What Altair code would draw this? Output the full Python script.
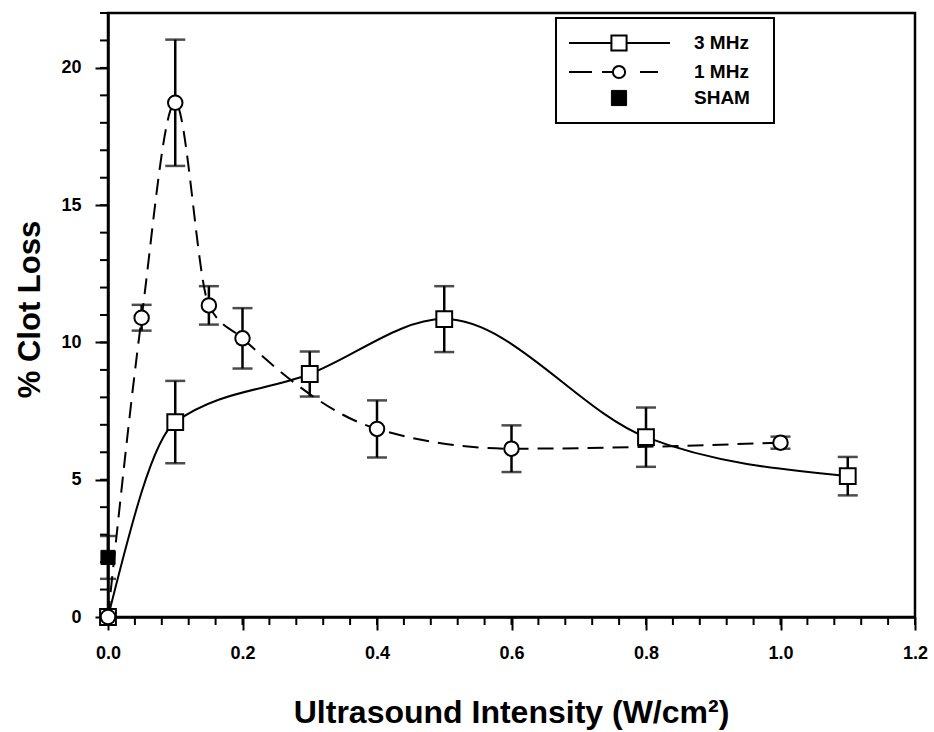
import altair as alt
import pandas as pd

# ---- data ----
x_3mhz = [0.0, 0.1, 0.3, 0.5, 0.8, 1.1]
y_3mhz = [0.0, 7.1, 8.85, 10.85, 6.55, 5.13]
e_3mhz = [0.0, 1.5, 0.82, 1.2, 1.08, 0.7]

x_1mhz = [0.0, 0.05, 0.1, 0.15, 0.2, 0.4, 0.6, 1.0]
y_1mhz = [0.0, 10.9, 18.73, 11.35, 10.15, 6.85, 6.13, 6.35]
e_1mhz = [0.0, 0.47, 2.3, 0.7, 1.1, 1.04, 0.85, 0.22]

x_sham = [0.0]
y_sham = [2.17]
e_sham = [0.78]

x_major = [0.0, 0.2, 0.4, 0.6, 0.8, 1.0, 1.2]
x_minor = [round(i * 0.04, 2) for i in range(31)]
y_major = [0, 5, 10, 15, 20]
y_minor = list(range(0, 23))

legend_labels = ["3 MHz", "1 MHz", "SHAM"]

FONT = "Liberation Sans"

def mk(x, y, e):
    df = pd.DataFrame({"x": x, "y": y, "e": e})
    df["lo"] = df["y"] - df["e"]
    df["hi"] = df["y"] + df["e"]
    return df

d3 = mk(x_3mhz, y_3mhz, e_3mhz)
d1 = mk(x_1mhz, y_1mhz, e_1mhz)
ds = mk(x_sham, y_sham, e_sham)
d3e = d3[d3["e"] > 0]
d1e = d1[d1["e"] > 0]

xs = alt.Scale(domain=[0, 1.2], nice=False, zero=False)
ys = alt.Scale(domain=[0, 22], nice=False, zero=False)
xaxis = alt.Axis(values=x_major, format=".1f", title="Ultrasound Intensity (W/cm²)",
                 titleFontSize=32, titleFont=FONT, titleFontWeight="bold", labelFlush=False,
                 titleX=403, titleY=95, titleBaseline="middle", titleAlign="center")
yaxis = alt.Axis(values=y_major, title="% Clot Loss", labelFlush=False,
                 titleFontSize=31, titleFont=FONT, titleFontWeight="bold",
                 titleX=-78, titleY=296, titleBaseline="middle", titleAlign="center", titleAngle=-90)

def X(f):
    return alt.X(f, type="quantitative", scale=xs, axis=xaxis)

def Y(f):
    return alt.Y(f, type="quantitative", scale=ys, axis=yaxis)

H = 604
W = 807

minor_x = alt.Chart(pd.DataFrame({"t": x_minor})).mark_rule(color="black", strokeWidth=2).encode(
    x=X("t"), y=alt.value(H), y2=alt.value(H + 8))
minor_y = alt.Chart(pd.DataFrame({"t": y_minor})).mark_rule(color="black", strokeWidth=2).encode(
    y=Y("t"), x=alt.value(0), x2=alt.value(-8))

def errbars(df, cap):
    r = alt.Chart(df).mark_rule(color="black", strokeWidth=2.5).encode(
        x=X("x"), y=Y("lo"), y2="hi")
    t1 = alt.Chart(df).mark_tick(color="black", thickness=2.5, size=cap, orient="horizontal").encode(
        x=X("x"), y=Y("lo"))
    t2 = alt.Chart(df).mark_tick(color="black", thickness=2.5, size=cap, orient="horizontal").encode(
        x=X("x"), y=Y("hi"))
    return [r, t1, t2]

line3 = alt.Chart(d3).mark_line(color="black", strokeWidth=2, interpolate="monotone").encode(
    x=X("x"), y=Y("y"))
line1 = alt.Chart(d1).mark_line(color="black", strokeWidth=2, interpolate="monotone",
                                strokeDash=[16, 9]).encode(x=X("x"), y=Y("y"))

pts3 = alt.Chart(d3).mark_point(shape="square", size=250, filled=True, fill="white",
                                stroke="black", strokeWidth=2, opacity=1).encode(x=X("x"), y=Y("y"))
pts1 = alt.Chart(d1).mark_point(shape="circle", size=210, filled=True, fill="white",
                                stroke="black", strokeWidth=2, opacity=1).encode(x=X("x"), y=Y("y"))
ptss = alt.Chart(ds).mark_point(shape="square", size=200, filled=True, fill="black",
                                stroke="black", strokeWidth=1, opacity=1).encode(x=X("x"), y=Y("y"))

# ---- legend (drawn in pixel space of the plot area) ----
one = pd.DataFrame({"a": [0]})
LX0, LX1, LY0, LY1 = 448, 666, 5, 110
rows = [30, 59, 85]
sym_x = 511
txt_x = 586

leg_box = alt.Chart(one).mark_rect(fill="white", stroke="black", strokeWidth=2).encode(
    x=alt.value(LX0), x2=alt.value(LX1), y=alt.value(LY0), y2=alt.value(LY1))
leg_l1 = alt.Chart(one).mark_rule(color="black", strokeWidth=2).encode(
    x=alt.value(461), x2=alt.value(562), y=alt.value(rows[0]))
leg_p1 = alt.Chart(one).mark_point(shape="square", size=230, filled=True, fill="white",
                                   stroke="black", strokeWidth=2, opacity=1).encode(
    x=alt.value(sym_x), y=alt.value(rows[0]))
leg_l2 = alt.Chart(one).mark_rule(color="black", strokeWidth=2, strokeDash=[23, 10, 11, 27, 18]).encode(
    x=alt.value(461), x2=alt.value(550), y=alt.value(rows[1]))
leg_p2 = alt.Chart(one).mark_point(shape="circle", size=150, filled=True, fill="white",
                                   stroke="black", strokeWidth=2, opacity=1).encode(
    x=alt.value(sym_x), y=alt.value(rows[1]))
leg_p3 = alt.Chart(one).mark_point(shape="square", size=230, filled=True, fill="black",
                                   stroke="black", strokeWidth=1, opacity=1).encode(
    x=alt.value(sym_x), y=alt.value(rows[2]))
leg_txt = []
for lab, ry in zip(legend_labels, rows):
    leg_txt.append(alt.Chart(pd.DataFrame({"lab": [lab]})).mark_text(
        align="left", baseline="middle", font=FONT, fontSize=19, fontWeight="bold", color="black").encode(
        x=alt.value(txt_x), y=alt.value(ry), text="lab:N"))

layers = [minor_x, minor_y] + errbars(d3e, 20) + errbars(d1e, 20) + errbars(ds, 16) + \
    [line3, line1, pts3, pts1, ptss, leg_box, leg_l1, leg_p1, leg_l2, leg_p2, leg_p3] + leg_txt

chart = alt.layer(*layers).properties(
    width=W, height=H,
    autosize=alt.AutoSizeParams(type="none"),
    padding={"left": 108, "top": 13, "right": 19, "bottom": 115},
    background="white",
).configure_view(stroke="black", strokeWidth=2.5).configure_axis(
    grid=False, domainColor="black", domainWidth=2.5, tickColor="black", tickWidth=2,
    tickSize=13, labelFont=FONT, labelFontSize=18, labelFontWeight="bold", labelColor="black",
    labelPadding=14, titleColor="black"
)

chart.save("out.html", embed_options={"renderer": "svg", "actions": False})
